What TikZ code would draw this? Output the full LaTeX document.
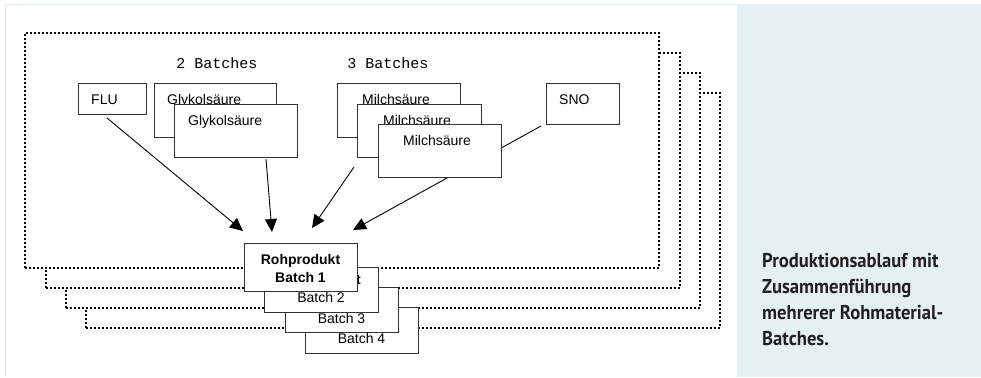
\documentclass[tikz,border=0pt]{standalone}
\usepackage{fontspec}
\setmainfont{Liberation Sans}
\newfontfamily\monof{Liberation Mono}
\newfontfamily\capf[FakeStretch=0.93]{PT Sans}
\usetikzlibrary{arrows.meta}
\definecolor{panel}{HTML}{E5F1F1}
\definecolor{edgec}{HTML}{DCEBEB}
\definecolor{boxline}{HTML}{333333}
\definecolor{captxt}{HTML}{231F20}
\begin{document}
\begin{tikzpicture}[x=1bp,y=-1bp,
  frame/.style={draw=black, line width=2bp, dash pattern=on 2bp off 2bp, fill=white,
    anchor=north west, inner sep=0pt, minimum width=634bp, minimum height=235bp},
  box/.style={draw=boxline, line width=1bp, fill=white, anchor=north west, inner sep=0pt},
  lbl/.style={anchor=base west, inner sep=0pt, font=\fontsize{14bp}{16bp}\selectfont},
  blbl/.style={anchor=base, inner sep=0pt, font=\fontsize{14bp}{16bp}\selectfont},
  mono/.style={anchor=base, inner sep=0pt, font=\fontsize{15bp}{17bp}\monof},
  arr/.style={draw=black, line width=0.9bp, -{Triangle[length=13bp,width=12bp]}}
]
\useasboundingbox (0,0) rectangle (981,377);
\fill[white] (0,0) rectangle (981,377);
\fill[panel] (737,4) rectangle (981,377);
\draw[edgec, line width=1bp] (5,377) -- (5,4) -- (737,4);

% stacked dotted frames
\node[frame] (fr4) at (85,92) {};
\node[frame] (fr3) at (64.5,72) {};
\node[frame] (fr2) at (44.5,52) {};
\node[frame] (fr1) at (24,32) {};

% headings
\node[mono] (h2) at (217,68) {2 Batches};
\node[mono] (h3) at (388,68) {3 Batches};

% connector end points
\coordinate (s1) at (107,118);
\coordinate (s2) at (266,159);
\coordinate (s3) at (354,167);
\coordinate (s4) at (541,126);
\coordinate (e1) at (243,231);
\coordinate (e2) at (272,232);
\coordinate (e3) at (312,228);
\coordinate (e4) at (353,230);

\draw[arr] (s1) -- (e1);
\draw[arr] (s2) -- (e2);
\draw[arr] (s3) -- (e3);
\draw[arr] (s4) -- (e4);

% raw material boxes
\node[box, minimum width=68bp, minimum height=31bp] (flu) at (78,83) {};
\node[lbl] (flut) at (91,104) {FLU};
\node[box, minimum width=122bp, minimum height=54bp] (g1) at (154,83) {};
\node[lbl] (g1t) at (167,104) {Glykolsäure};
\node[box, minimum width=123bp, minimum height=53bp] (g2) at (174,104) {};
\node[lbl] (g2t) at (188,125) {Glykolsäure};
\node[box, minimum width=123bp, minimum height=54bp] (m1) at (337,83) {};
\node[lbl] (m1t) at (362,104) {Milchsäure};
\node[box, minimum width=124bp, minimum height=53bp] (m2) at (357,104) {};
\node[lbl] (m2t) at (383,125) {Milchsäure};
\node[box, minimum width=123bp, minimum height=53bp] (m3) at (378,124) {};
\node[lbl] (m3t) at (403,145.5) {Milchsäure};
\node[box, minimum width=73bp, minimum height=41bp] (sno) at (546,83) {};
\node[lbl] (snot) at (559,104) {SNO};

% product batches
\node[box, minimum width=113bp, minimum height=46bp] (b4) at (305,307) {};
\node[blbl] (b4t) at (361.5,343) {Batch 4};
\node[box, minimum width=113bp, minimum height=45bp] (b3) at (285,287) {};
\node[blbl] (b3t) at (341.5,323) {Batch 3};
\node[box, minimum width=114bp, minimum height=45bp] (b2) at (264,267) {};
\node[blbl] (b2r) at (321,284) {\bfseries Rohprodukt};
\node[blbl] (b2t) at (321,302) {Batch 2};
\node[box, minimum width=113bp, minimum height=48bp] (b1) at (244,243) {};
\node[blbl] (b1r) at (300.5,264) {\bfseries Rohprodukt};
\node[blbl] (b1t) at (300.5,282) {\bfseries Batch 1};

% caption (base anchor = baseline of last line)
\node[anchor=base west, inner sep=0pt, align=left, text=captxt,
  font=\fontsize{20bp}{25.7bp}\capf\bfseries] (cap) at (762,345)
  {Produktionsablauf mit\\Zusammenführung\\mehrerer Rohmaterial-\\Batches.};
\end{tikzpicture}
\end{document}
